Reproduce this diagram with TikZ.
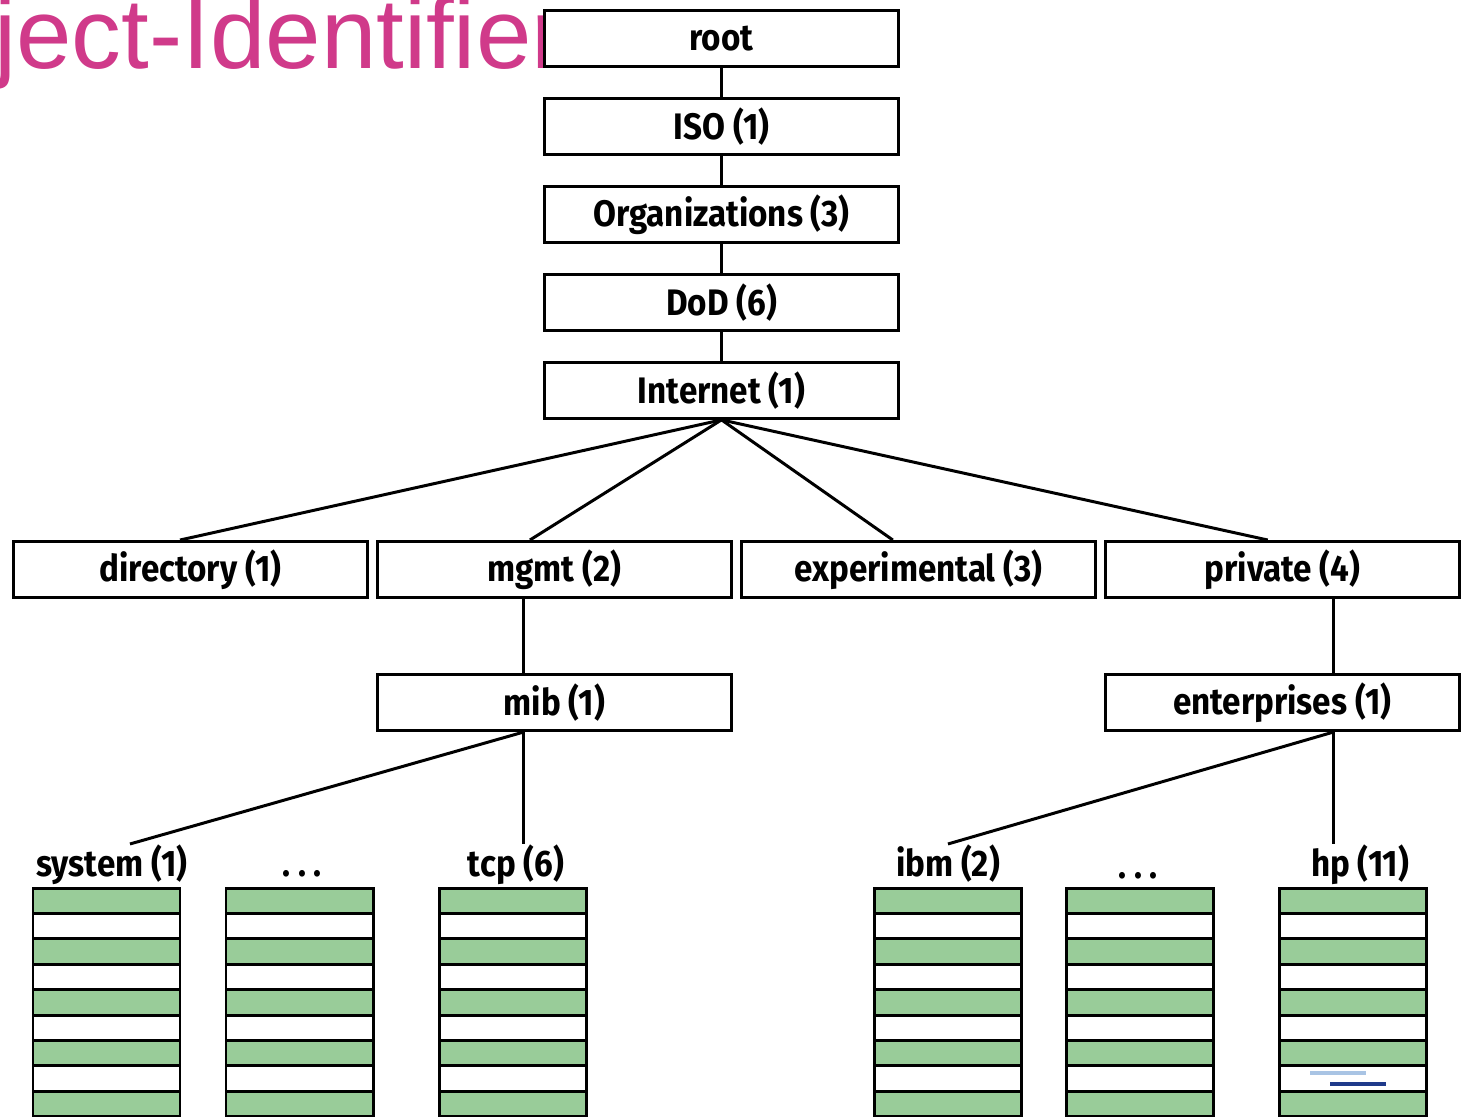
\documentclass[tikz,border=0pt]{standalone}
\usepackage{fontspec}
\setmainfont{Liberation Sans}
\newfontfamily\handfont[FakeStretch=0.9]{Fira Sans}
\usetikzlibrary{positioning}

\definecolor{titlepink}{RGB}{208,58,138}
\definecolor{rowgreen}{RGB}{153,204,153}
\definecolor{markblue}{RGB}{169,196,228}
\definecolor{marknavy}{RGB}{31,58,138}

\tikzset{
  oidbox/.style={draw, line width=1.7pt, fill=white, inner sep=0pt,
    minimum width=7.08cm, minimum height=1.12cm,
    font=\handfont\bfseries\fontsize{21}{24}\selectfont},
  oidlabel/.style={inner sep=0pt, anchor=base,
    font=\handfont\bfseries\fontsize{21}{24}\selectfont},
  treeline/.style={line width=1.7pt},
}

\begin{document}
\begin{tikzpicture}[x=0.02cm, y=-0.02cm, node distance=0.58cm]
      \useasboundingbox (0,0) rectangle (1462,1116);
      % title:
      %   heading of the slide, cut off on the left and behind the root box
      \node[anchor=base west, inner sep=0pt, text=titlepink,
        font=\fontsize{56.7}{60}\selectfont] (title) at (-6,68) {ject-Identifier};
      % root .. Internet:
      %   the single chain from the root of the OID tree
      \node[oidbox] (root) at (721.5,38.5) {root};
      \node[oidbox, below=of root] (iso) {ISO (1)};
      \node[oidbox, below=of iso] (org) {Organizations (3)};
      \node[oidbox, below=of org] (dod) {DoD (6)};
      \node[oidbox, below=of dod] (inet) {Internet (1)};
      % directory, mgmt, experimental, private:
      %   the four subtrees below Internet
      \node[oidbox] (dir) at (190.5,569.5) {directory (1)};
      \node[oidbox, right=0.14cm of dir] (mgmt) {mgmt (2)};
      \node[oidbox, right=0.14cm of mgmt] (exper) {experimental (3)};
      \node[oidbox, right=0.14cm of exper] (priv) {private (4)};
      % mib, enterprises:
      \node[oidbox, below=1.48cm of mgmt] (mib) {mib (1)};
      \node[oidbox, below=1.48cm of priv] (ent) {enterprises (1)};
      % leaf labels over the tables
      \node[oidlabel] (sys) at (112,876) {system (1)};
      \node[oidlabel] (mibdots) at (302,876) {.\hspace{0.2em}.\hspace{0.2em}.};
      \node[oidlabel] (tcp) at (516,876) {tcp (6)};
      \node[oidlabel] (ibm) at (948,876) {ibm (2)};
      \node[oidlabel] (entdots) at (1138,878) {.\hspace{0.2em}.\hspace{0.2em}.};
      \node[oidlabel] (hp) at (1360,876) {hp (11)};

      % connectors
      \draw[treeline] (root) -- (iso);
      \draw[treeline] (iso) -- (org);
      \draw[treeline] (org) -- (dod);
      \draw[treeline] (dod) -- (inet);
      \draw[treeline] (inet.south) -- ([xshift=-0.21cm]dir.north);
      \draw[treeline] (inet.south) -- ([xshift=-0.49cm]mgmt.north);
      \draw[treeline] (inet.south) -- ([xshift=-0.51cm]exper.north);
      \draw[treeline] (inet.south) -- ([xshift=-0.29cm]priv.north);
      \draw[treeline] ([xshift=-0.61cm]mgmt.south) -- ([xshift=-0.61cm]mib.north);
      \draw[treeline] ([xshift=1.03cm]priv.south) -- ([xshift=1.03cm]ent.north);
      \draw[treeline] ([xshift=-0.61cm]mib.south) -- ([xshift=0.36cm]sys.north);
      \draw[treeline] ([xshift=-0.61cm]mib.south) -- ([xshift=-0.61cm]mib.south |- tcp.north);
      \draw[treeline] ([xshift=1.03cm]ent.south) -- (ibm.north);
      \draw[treeline] ([xshift=1.03cm]ent.south) -- ([xshift=1.03cm]ent.south |- hp.north);

      % tables: striped rows below each leaf
      \foreach \sx in {33,226,439,874,1066,1279}
        \foreach \k in {0,...,8}{
          \ifodd\k \def\rowfill{white}\else \def\rowfill{rowgreen}\fi
          \draw[line width=1.7pt, fill=\rowfill] (\sx,888+25.4*\k) rectangle ++(147,25.4);
        }
      % marks in the hp table
      \draw[markblue, line width=2.6pt] (1310,1073) -- (1366,1073);
      \draw[marknavy, line width=2.6pt] (1330,1084) -- (1386,1084);
    \end{tikzpicture}
\end{document}
